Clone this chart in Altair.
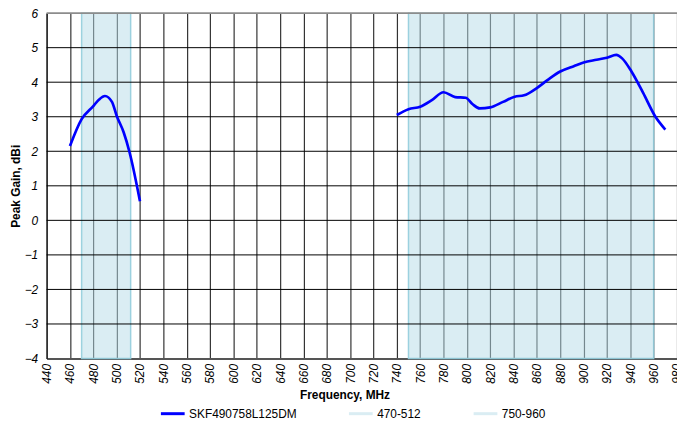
import altair as alt
import pandas as pd

# ---- data ----
series_name = "SKF490758L125DM"
left_freq = [460, 470, 480, 485, 490, 496, 500, 506, 511, 520]
left_gain = [2.15, 2.93, 3.31, 3.5, 3.6, 3.43, 3.03, 2.55, 1.98, 0.55]
right_freq = [740, 750, 760, 770, 780, 790, 799, 805, 811, 820, 831, 841, 849,
              859, 869, 880, 892, 900, 911, 920, 928, 933, 941, 951, 961, 970]
right_gain = [3.05, 3.22, 3.29, 3.48, 3.71, 3.57, 3.55, 3.36, 3.24, 3.27, 3.43, 3.58, 3.62,
              3.81, 4.06, 4.31, 4.47, 4.57, 4.65, 4.71, 4.79, 4.69, 4.31, 3.69, 3.03, 2.63]
band_names = ["470-512", "750-960"]
band_start = [470, 750]
band_end = [512, 960]
x_ticks = list(range(440, 981, 20))
y_ticks = list(range(-4, 7))

line_df = pd.DataFrame({
    "freq": left_freq + right_freq,
    "gain": left_gain + right_gain,
    "seg": ["a"] * len(left_freq) + ["b"] * len(right_freq),
    "series": [series_name] * (len(left_freq) + len(right_freq)),
})
band_df = pd.DataFrame({"name": band_names, "start": band_start, "end": band_end})
hgrid_df = pd.DataFrame({"y": y_ticks[1:-1]})
top_df = pd.DataFrame({"y": [y_ticks[-1]]})

W, H = 637, 349
FONT = "Liberation Sans"

xscale = alt.Scale(domain=[440, 980], nice=False, zero=False)
yscale = alt.Scale(domain=[-4, 6], nice=False, zero=False)

xaxis = alt.Axis(
    values=x_ticks, grid=True, gridColor="#333333", gridWidth=1.2, ticks=False,
    labelAngle=270, labelFontStyle="italic", labelFont=FONT, labelFontSize=12,
    labelColor="#000", labelPadding=5, labelOverlap=False, labelFlush=False,
    domainColor="#555", domainWidth=2,
    title="Frequency, MHz", titleFont=FONT, titleFontSize=12, titleFontWeight="bold",
    titleColor="#000", titleX=301, titleY=36, titleBaseline="middle", titleAlign="center",
)
yaxis = alt.Axis(
    values=y_ticks, grid=False, ticks=False, labelFontStyle="italic", labelFont=FONT,
    labelFontSize=12, labelColor="#000", labelPadding=9, labelOverlap=False, labelFlush=False,
    domainColor="#000", domainWidth=1,
    title="Peak Gain, dBi", titleFont=FONT, titleFontSize=12, titleFontWeight="bold",
    titleColor="#000", titleX=-31, titleY=H / 2, titleAngle=270, titleBaseline="middle",
    titleAlign="center",
)

bands = alt.Chart(band_df).mark_rect(
    fill="#b6dce7", fillOpacity=0.5, stroke="#92cddc", strokeWidth=1.5, strokeOpacity=0.9
).encode(
    x=alt.X("start:Q", scale=xscale, axis=xaxis),
    x2="end:Q",
)

hgrid = alt.Chart(hgrid_df).mark_rule(color="#000", strokeWidth=1).encode(
    y=alt.Y("y:Q", scale=yscale, axis=yaxis)
)

topb = alt.Chart(top_df).mark_rule(color="#8c8c8c", strokeWidth=2).encode(
    y=alt.Y("y:Q", scale=yscale, axis=yaxis)
)

line = alt.Chart(line_df).mark_line(strokeWidth=2.7, interpolate="monotone").encode(
    x=alt.X("freq:Q", scale=xscale, axis=xaxis),
    y=alt.Y("gain:Q", scale=yscale, axis=yaxis),
    detail="seg:N",
    color=alt.Color(
        "series:N",
        scale=alt.Scale(domain=[series_name] + band_names,
                        range=["#0000ff", "#daedf3", "#daedf3"]),
        legend=alt.Legend(
            title=None, orient="none", legendX=114, legendY=391, direction="horizontal",
            symbolType="stroke", symbolStrokeWidth=3, symbolSize=576,
            labelFont=FONT, labelFontSize=12, labelColor="#000", labelOffset=3,
            columnPadding=46,
        ),
    ),
)

chart = alt.layer(bands, hgrid, topb, line).properties(
    width=W, height=H,
    autosize=alt.AutoSizeParams(type="none"),
    padding={"left": 39, "top": 3, "right": 0, "bottom": 64},
    background="white",
).configure_view(stroke=None)

chart.save("out.html", embed_options={"renderer": "svg", "actions": False})
